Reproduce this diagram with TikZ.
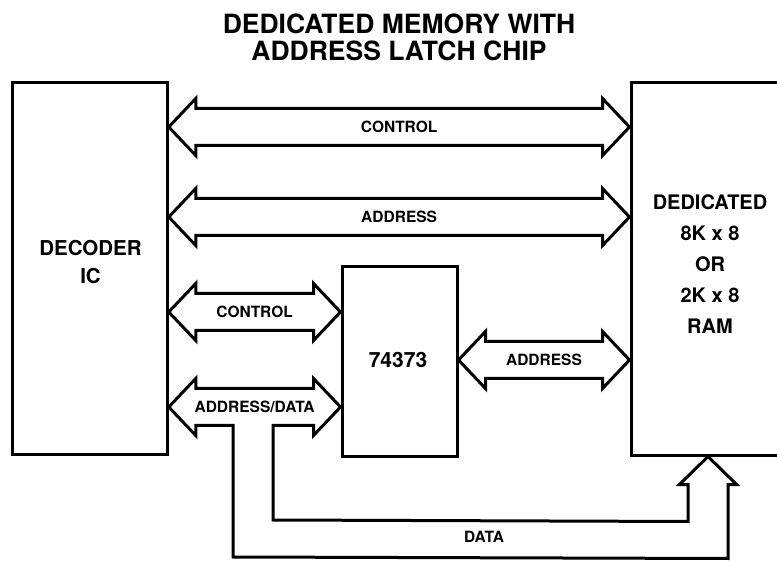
\documentclass[tikz,border=0pt]{standalone}
\usepackage{fontspec}
\setmainfont{TeX Gyre Heros}
\usetikzlibrary{calc}

% fat two-way bus between two points on one level
\newcommand\busarrow[4]{%
  \draw[bus] (#1) -- ++(27,-28.5) -- ++(0,10) -- ($(#2)+(-27,-18.5)$) -- ++(0,-10)
    -- (#2) -- ++(-27,28.5) -- ++(0,-10) -- ($(#1)+(27,18.5)$) -- ++(0,10) -- cycle;
  \node[buslabel](#4) at($(#1)!0.5!(#2)$){#3};}

\begin{document}
\begin{tikzpicture}[x=1pt,y=-1pt,
  box/.style={draw,line width=3pt,inner sep=0pt},
  bus/.style={line width=3pt,line join=miter},
  buslabel/.style={font=\bfseries\fontsize{15.5}{15.5}\selectfont,inner sep=1pt},
  boxtext/.style={align=center,inner sep=0pt},
]
\useasboundingbox (0,0) rectangle (777,561);
\clip (0,0) rectangle (777,561);

\node[font=\bfseries\fontsize{26.5}{27}\selectfont,align=center](title) at(399,37)
  {DEDICATED MEMORY WITH\\ADDRESS LATCH CHIP};

\node[box,minimum width=154.5,minimum height=371](dec) at(90,268.5){};
\node[box,minimum width=159,minimum height=372](ram) at(710.5,269){};
\node[box,minimum width=115,minimum height=189](latch) at(399.5,361.5){};

\node[boxtext,font=\bfseries\fontsize{20.5}{28}\selectfont](dectext) at(90.5,262){DECODER\\IC};
\node[boxtext,font=\bfseries\fontsize{20}{31}\selectfont](ramtext) at(710,264)
  {DEDICATED\\8K x 8\\OR\\2K x 8\\RAM};
\node[font=\bfseries\fontsize{21}{21}\selectfont](latchtext) at(398,360){74373};

\busarrow{dec.east |- 0,127}{ram.west |- 0,127}{CONTROL}{ctlA}
\busarrow{dec.east |- 0,217}{ram.west |- 0,217}{ADDRESS}{adrA}
\busarrow{dec.east |- 0,312}{latch.west |- 0,312}{CONTROL}{ctlB}
\busarrow{latch.east |- 0,360}{ram.west |- 0,360}{ADDRESS}{adrB}

\coordinate (adL) at (dec.east |- 0,407);
\coordinate (adR) at (latch.west |- 0,407);
\coordinate (dtip) at (ram.south -| 708,0);
\draw[bus] (adL) -- ++(27,-28.5) -- ++(0,10) -- ($(adR)+(-27,-18.5)$) -- ++(0,-10)
  -- (adR) -- ++(-27,28.5) -- ++(0,-10) -- (273,425.5) -- (273,520)
  -- ($(dtip)+(-20,65)$) -- ++(0,-37) -- ++(-8.5,0) -- (dtip) -- ++(28.5,28)
  -- ++(-8.5,0) -- ($(dtip)+(20,102)$) -- (233,557) -- (233,425.5)
  -- ($(adL)+(27,18.5)$) -- ++(0,10) -- cycle;
\node[buslabel](addata) at($(adL)!0.5!(adR)$){ADDRESS/DATA};
\node[buslabel](data) at(484,537){DATA};
\end{tikzpicture}
\end{document}
